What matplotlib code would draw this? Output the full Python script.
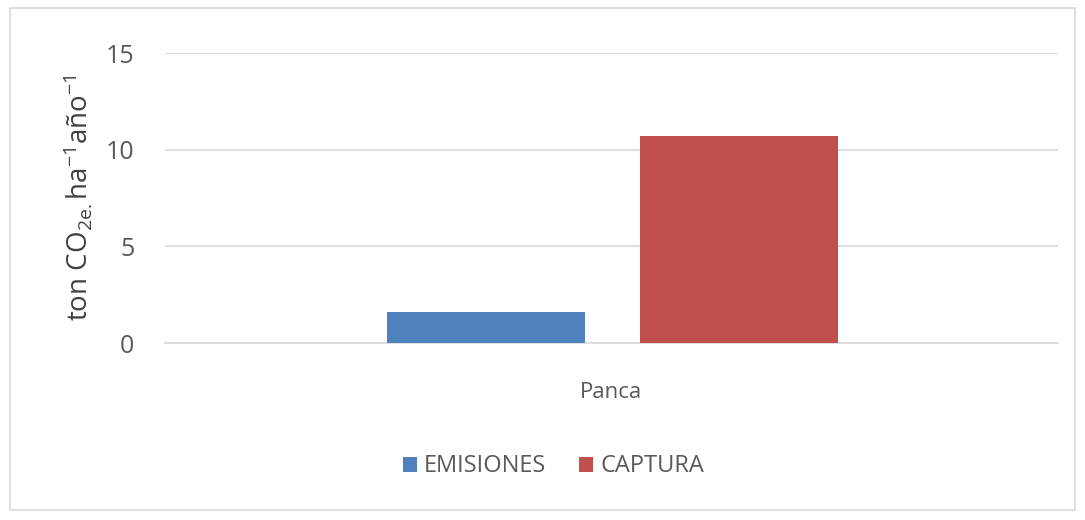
import matplotlib.pyplot as plt
from matplotlib.patches import Rectangle

# Data
category = ["Panca"]
series = ["EMISIONES", "CAPTURA"]
values = [1.6, 10.7]
colors = ["#4F81BD", "#C0504D"]
yticks = [0, 5, 10, 15]

plt.rcParams["font.family"] = ["Open Sans", "DejaVu Sans"]
plt.rcParams["mathtext.fontset"] = "custom"
plt.rcParams["mathtext.rm"] = "Open Sans"
plt.rcParams["mathtext.it"] = "Open Sans"

fig = plt.figure(figsize=(10.85, 5.2), dpi=100)
ax = fig.add_axes([0.152, 0.340, 0.823, 0.558])

width = 0.222
offsets = [-0.1405, 0.143]
for name, val, col, off in zip(series, values, colors, offsets):
    ax.bar(off, val, width=width, color=col, label=name, zorder=3)

ax.set_xlim(-0.5, 0.5)
ax.set_ylim(0, 15)
ax.set_yticks(yticks)
ax.set_xticks([0])
ax.set_xticklabels(category)
ax.yaxis.grid(True, color="#D9D9D9", linewidth=1.2, zorder=0)
ax.tick_params(length=0, labelsize=18, colors="#595959", pad=22)
ax.tick_params(axis="x", pad=28, labelsize=16)
for s in ["top", "right", "left"]:
    ax.spines[s].set_visible(False)
ax.spines["bottom"].set_color("#D9D9D9")
ax.spines["bottom"].set_linewidth(1.2)

ax.set_ylabel(r"ton CO$_{\mathrm{2e.}}$ha$^{\mathrm{-1}}$año$^{\mathrm{-1}}$", fontsize=20,
              color="#404040", labelpad=8)

fig.legend(loc="center", bbox_to_anchor=(0.51, 0.103), ncol=2, frameon=False,
           fontsize=17, handlelength=0.6, handleheight=0.6, handletextpad=0.3,
           columnspacing=1.4, labelcolor="#595959")

# outer chart border
fig.patches.append(Rectangle((0.009, 0.02), 0.982, 0.965, transform=fig.transFigure,
                             fill=False, edgecolor="#D9D9D9", linewidth=1.2))

fig.savefig("out.png", dpi=100)
